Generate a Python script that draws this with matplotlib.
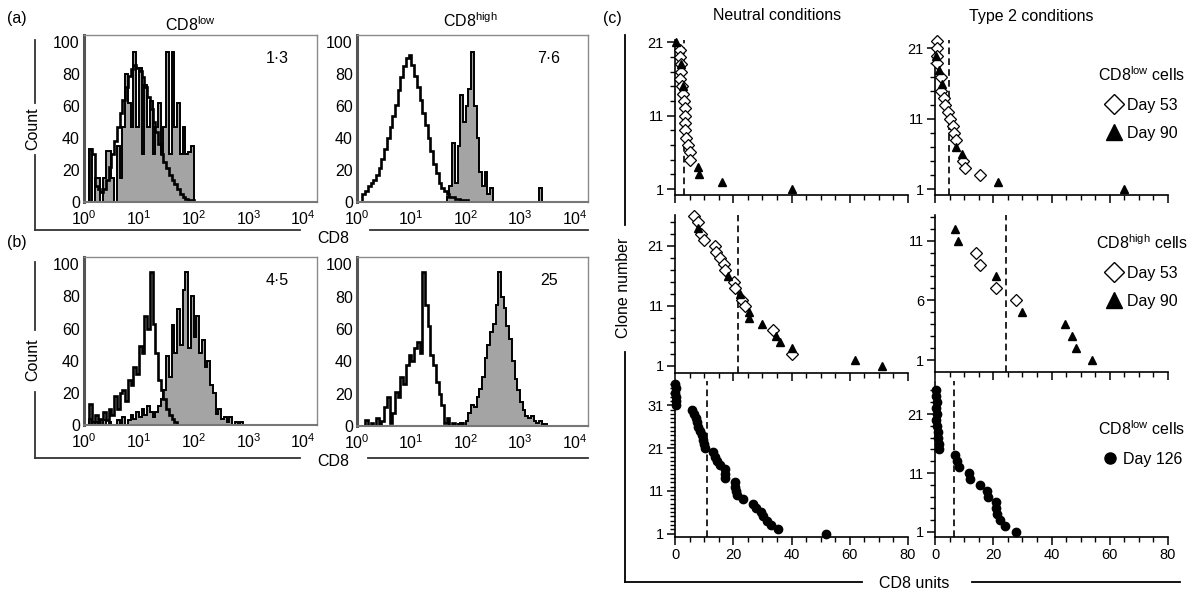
import numpy as np
import matplotlib
matplotlib.use('Agg')
import matplotlib.pyplot as plt
from matplotlib.lines import Line2D
from matplotlib.ticker import FixedLocator, NullFormatter

plt.rcParams['font.family'] = ['Liberation Sans', 'DejaVu Sans']
plt.rcParams['mathtext.fontset'] = 'custom'
plt.rcParams['mathtext.rm'] = 'Liberation Sans'

# ---- (a)/(b) flow histograms: counts per channel, 20 channels per decade from 10^0 ----
a_low_open = [0, 0, 33, 30, 10, 8, 6, 8, 14, 22, 30, 38, 47, 56, 64, 72, 79, 83, 86, 84,
              82, 78, 72, 66, 58, 50, 44, 36, 30, 25, 21, 17, 14, 11, 8, 5, 3, 2, 1, 1, 0]
a_low_fill = [0, 0, 33, 0, 15, 15, 0, 15, 32, 32, 15, 0, 35, 15, 47, 80, 62, 47, 94, 47,
              84, 30, 73, 47, 63, 30, 47, 62, 30, 47, 94, 30, 94, 47, 62, 30, 47, 30, 31, 35, 0]
a_high_open = [0, 0, 5, 7, 10, 12, 14, 17, 21, 27, 33, 40, 47, 54, 61, 70, 78, 85, 90, 92,
               86, 79, 72, 64, 56, 48, 40, 32, 24, 18, 12, 9, 7, 5, 3, 3, 2, 2, 1, 1, 1, 0]
a_high_fill = [0, 0, 0, 0, 0, 0, 0, 0, 0, 0, 0, 0, 0, 0, 0, 0, 0, 0, 0, 0,
               0, 0, 0, 0, 0, 0, 0, 0, 0, 0, 0, 0, 0, 3, 10, 37, 12, 35, 67, 50,
               60, 71, 94, 60, 40, 19, 10, 19, 5, 9, 0, 0, 0, 0, 0, 0, 0, 0, 0, 0,
               0, 0, 0, 0, 0, 0, 0, 9, 0]
b_low_open = [0, 0, 13, 2, 6, 0, 4, 8, 3, 10, 6, 18, 10, 20, 22, 15, 28, 25, 36, 32,
              49, 45, 68, 60, 95, 63, 45, 28, 22, 16, 10, 6, 4, 2, 0]
b_low_fill = [0, 0, 4, 0, 2, 0, 0, 3, 0, 2, 0, 0, 3, 0, 5, 0, 3, 6, 4, 8,
              5, 10, 6, 12, 8, 5, 8, 12, 16, 22, 43, 30, 62, 45, 72, 50, 84, 95, 48, 80,
              55, 68, 45, 53, 36, 40, 25, 20, 7, 10, 4, 5, 2, 5, 0, 2, 0, 2, 0]
b_high_open = [0, 0, 0, 4, 0, 2, 0, 5, 0, 3, 12, 18, 2, 8, 21, 18, 30, 26, 38, 44,
               40, 48, 52, 45, 95, 75, 62, 44, 38, 27, 20, 13, 2, 5, 0, 2, 0, 0, 2, 0]
b_high_fill = [0, 0, 0, 0, 0, 0, 0, 0, 0, 0, 0, 0, 0, 0, 0, 0, 0, 0, 0, 0,
               0, 0, 0, 0, 0, 0, 0, 0, 0, 0, 0, 0, 0, 0, 0, 0, 0, 1, 2, 0,
               3, 8, 13, 12, 18, 23, 30, 42, 50, 58, 63, 75, 95, 80, 73, 62, 54, 40, 29, 22,
               15, 10, 6, 5, 6, 3, 2, 3, 1, 1, 0]
hist_values = ['1·3', '7·6', '4·5', '25']

# ---- (c) CD8 units vs clone number ----
neu_low_d53_x = [1.6, 1.7, 1.9, 2.0, 1.8, 2.3, 2.6, 3.2, 3.4, 3.4, 3.4, 3.4, 3.8, 4.6, 5.2, 5.2]
neu_low_d53_y = [20, 19, 18, 17, 16, 15, 14, 13, 12, 11, 10, 9, 8, 7, 6, 5]
neu_low_d90_x = [0.5, 2.1, 2.6, 8.0, 8.3, 16.0, 40.0]
neu_low_d90_y = [21, 18, 15, 4, 3, 2, 1]

t2_low_d53_x = [0.8, 0.6, 0.8, 0.8, 2.0, 2.2, 3.0, 3.4, 4.6, 5.2, 6.1, 6.5, 7.2, 9.5, 10.3, 15.6]
t2_low_d53_y = [22, 21, 20, 19, 17, 15, 14, 13, 12, 11, 10, 9, 8, 5, 4, 3]
t2_low_d90_x = [0.3, 1.5, 2.3, 7.2, 9.1, 21.7, 65.0]
t2_low_d90_y = [20, 18, 16, 7, 6, 2, 1]

neu_high_d53_x = [6.5, 7.9, 8.8, 10.1, 13.7, 14.1, 15.5, 16.8, 17.2, 20.4, 20.6, 22.9, 24.0, 33.7, 40.0]
neu_high_d53_y = [26, 25, 23, 22, 21, 20, 19, 18, 17, 15, 14, 12, 11, 7, 3]
neu_high_d90_x = [8.0, 18.3, 22.3, 25.5, 25.5, 29.8, 34.6, 36.1, 40.0, 61.8, 71.0]
neu_high_d90_y = [24, 16, 13, 10, 9, 8, 6, 5, 4, 2, 1]

t2_high_d53_x = [14.0, 15.4, 20.9, 27.7]
t2_high_d53_y = [10, 9, 7, 6]
t2_high_d90_x = [6.8, 8.0, 20.9, 30.0, 44.7, 47.2, 48.5, 54.0]
t2_high_d90_y = [12, 11, 8, 5, 4, 3, 2, 1]

neu_d126_x = [0.1, 0.2, 0.1, 0.3, 0.2, 0.4, 5.9, 6.5, 7.1, 7.5, 8.0, 8.7, 9.2, 9.6, 9.9, 10.2,
              13.0, 13.6, 14.5, 15.5, 17.0, 17.1, 17.2, 20.6, 20.6, 20.8, 21.3,
              23.3, 26.7, 27.9, 29.6, 30.2, 31.7, 32.8, 35.3, 52.0]
neu_d126_y = [36, 35, 34, 33, 32, 31, 30, 29, 28, 27, 26, 25, 24, 23, 22, 21,
              20, 19, 18, 17, 16, 15, 14, 13, 12, 11, 10, 9, 8, 7, 6, 5, 4, 3, 2, 1]
t2_d126_x = [0.5, 0.3, 0.6, 0.4, 0.7, 0.5, 0.8, 1.0, 1.2, 1.4, 1.5, 7.0, 7.6, 8.2, 11.7,
             12.0, 15.4, 18.0, 18.2, 20.9, 21.1, 21.3, 22.2, 23.9, 27.9]
t2_d126_y = [25, 24, 23, 22, 21, 20, 19, 18, 17, 16, 15, 14, 13, 12, 11,
             10, 9, 8, 7, 6, 5, 4, 3, 2, 1]

# dashed reference line per panel (CD8 units)
cutoffs = {'neu_low': 3.1, 't2_low': 4.8, 'neu_high': 21.7, 't2_high': 24.3,
           'neu_126': 11.1, 't2_126': 6.5}

W, H = 1197, 590
fig = plt.figure(figsize=(W / 100, H / 100), dpi=100)


def px_axes(l, t, r, b):
    return fig.add_axes([l / W, 1 - b / H, (r - l) / W, (b - t) / H])


def px_line(xs, ys, color='#333333'):
    fig.add_artist(Line2D([x / W for x in xs], [1 - y / H for y in ys],
                          transform=fig.transFigure, color=color, lw=1.3))


def px_text(x, y, s, **kw):
    fig.text(x / W, 1 - y / H, s, ha='center', va='center', **kw)


def hist_panel(box, open_vals, fill_vals, label):
    ax = px_axes(*box)
    e_fill = 10 ** (np.arange(len(fill_vals) + 1) / 20)
    e_open = 10 ** (np.arange(len(open_vals) + 1) / 20)
    ax.stairs(fill_vals, e_fill, fill=True, color='#a4a4a4', lw=0)
    ax.stairs(fill_vals, e_fill, color='black', lw=1.4)
    ax.stairs(open_vals, e_open, color='black', lw=1.9)
    ax.set_xscale('log')
    ax.set_xlim(1, 10 ** 4.25)
    ax.set_ylim(0, 104.5)
    ax.set_xticks([1, 10, 100, 1000, 10000])
    ax.xaxis.set_minor_locator(FixedLocator([]))
    ax.set_yticks([0, 20, 40, 60, 80, 100])
    ax.tick_params(length=0, labelsize=11.5)
    ax.tick_params(axis='x', pad=5)
    ax.tick_params(axis='y', pad=3)
    for side in ['top', 'right']:
        ax.spines[side].set_color('#8a8a8a')
        ax.spines[side].set_linewidth(1.0)
    ax.spines['left'].set_color('#555555')
    ax.spines['left'].set_linewidth(2.2)
    ax.spines['bottom'].set_color('#777777')
    ax.spines['bottom'].set_linewidth(1.5)
    ax.text(0.83, 0.86, label, transform=ax.transAxes, ha='center', va='center', fontsize=11.5)
    return ax


hist_panel((84, 35, 317, 202), a_low_open, a_low_fill, hist_values[0])
hist_panel((357, 35, 588, 202), a_high_open, a_high_fill, hist_values[1])
hist_panel((84, 257, 317, 425), b_low_open, b_low_fill, hist_values[2])
hist_panel((357, 257, 588, 426), b_high_open, b_high_fill, hist_values[3])

px_text(190, 25, r'CD8$^{\mathregular{low}}$', fontsize=11.5)
px_text(470, 21, r'CD8$^{\mathregular{high}}$', fontsize=11.5)
px_text(17, 19, '(a)', fontsize=11.5)
px_text(17, 242, '(b)', fontsize=11.5)
px_text(612, 19, '(c)', fontsize=11.5)

# outer frame of (a) and (b)
px_line([35, 35], [40, 103])
px_line([35, 35], [155, 230])
px_line([35, 300], [230, 230])
px_line([370, 588], [230, 230])
px_text(33, 129, 'Count', fontsize=11.5, rotation=90)
px_text(333, 239, 'CD8', fontsize=11.5)
px_line([35, 35], [262, 330])
px_line([35, 35], [392, 458])
px_line([35, 300], [458, 458])
px_line([368, 588], [458, 458])
px_text(33, 360, 'Count', fontsize=11.5, rotation=90)
px_text(333, 462, 'CD8', fontsize=11.5)


def clone_panel(box, ylim, yticks, ystep, cut, show_x):
    ax = px_axes(*box)
    ax.set_xlim(0, 80)
    ax.set_ylim(*ylim)
    ax.set_xticks([0, 20, 40, 60, 80])
    ax.xaxis.set_minor_locator(FixedLocator(np.arange(0, 81, 5)))
    ax.set_yticks(yticks)
    ax.yaxis.set_minor_locator(FixedLocator(np.arange(1, ylim[1], ystep)))
    ax.tick_params(which='major', direction='out', length=6, width=1.1, labelsize=10.5, pad=2)
    ax.tick_params(which='minor', direction='out', length=3.5, width=1.0)
    if not show_x:
        ax.xaxis.set_major_formatter(NullFormatter())
    for side in ['top', 'right']:
        ax.spines[side].set_visible(False)
    for side in ['left', 'bottom']:
        ax.spines[side].set_linewidth(1.2)
    ax.patch.set_alpha(0)
    ax.axvline(cut, color='black', ls=(0, (4, 2.5)), lw=1.2)
    return ax


def diamonds(ax, x, y):
    ax.plot(x, y, 'D', ms=5.8, mfc='white', mec='black', mew=0.9, clip_on=False, zorder=3)


def triangles(ax, x, y):
    ax.plot(x, y, '^', ms=6, mfc='black', mec='black', clip_on=False, zorder=4)


def dots(ax, x, y):
    ax.plot(x, y, 'o', ms=6, mfc='black', mec='black', clip_on=False, zorder=4)


ax = clone_panel((675, 40, 908, 195), (0.2, 21.3), [1, 11, 21], 2, cutoffs['neu_low'], False)
diamonds(ax, neu_low_d53_x, neu_low_d53_y)
triangles(ax, neu_low_d90_x, neu_low_d90_y)
ax = clone_panel((935, 40, 1168, 195), (0.2, 22.2), [1, 11, 21], 2, cutoffs['t2_low'], False)
diamonds(ax, t2_low_d53_x, t2_low_d53_y)
triangles(ax, t2_low_d90_x, t2_low_d90_y)

ax = clone_panel((675, 215, 908, 373), (-0.2, 26.1), [1, 11, 21], 2, cutoffs['neu_high'], False)
diamonds(ax, neu_high_d53_x, neu_high_d53_y)
triangles(ax, neu_high_d90_x, neu_high_d90_y)
ax = clone_panel((935, 215, 1168, 372), (0.0, 13.15), [1, 6, 11], 1, cutoffs['t2_high'], False)
diamonds(ax, t2_high_d53_x, t2_high_d53_y)
triangles(ax, t2_high_d90_x, t2_high_d90_y)

ax = clone_panel((675, 381, 908, 537), (0.2, 36.7), [1, 11, 21, 31], 1, cutoffs['neu_126'], True)
dots(ax, neu_d126_x, neu_d126_y)
ax = clone_panel((935, 381, 1168, 537), (0.15, 26.6), [1, 11, 21], 2, cutoffs['t2_126'], True)
dots(ax, t2_d126_x, t2_d126_y)

px_text(777, 16, 'Neutral conditions', fontsize=11.5)
px_text(1031, 16, 'Type 2 conditions', fontsize=11.5)

# outer frame of (c)
px_line([625, 625], [35, 225], color='black')
px_line([625, 625], [352, 582], color='black')
px_line([625, 862], [582, 582], color='black')
px_line([972, 1180], [582, 582], color='black')
px_text(624, 288, 'Clone number', fontsize=11.5, rotation=90)
px_text(914, 583, 'CD8 units', fontsize=11.5)

# marker keys
diamond_key = Line2D([], [], marker='D', ls='none', ms=10, mfc='white', mec='black', mew=1.0)
triangle_key = Line2D([], [], marker='^', ls='none', ms=11, mfc='black', mec='black')
dot_key = Line2D([], [], marker='o', ls='none', ms=8, mfc='black', mec='black')

legend_sets = [
    (103, r'CD8$^{\mathregular{low}}$ cells', [diamond_key, triangle_key], ['Day 53', 'Day 90']),
    (271, r'CD8$^{\mathregular{high}}$ cells', [diamond_key, triangle_key], ['Day 53', 'Day 90']),
    (443, r'CD8$^{\mathregular{low}}$ cells', [dot_key], ['Day 126']),
]
for cy, title, handles, labels in legend_sets:
    leg = fig.legend(handles, labels, title=title, loc='center',
                     bbox_to_anchor=(1142 / W, 1 - cy / H), bbox_transform=fig.transFigure,
                     frameon=False, fontsize=11.5, title_fontsize=11.5,
                     handlelength=1.0, handletextpad=0.3, labelspacing=0.8, borderpad=0)
    leg._legend_box.sep = 10

fig.savefig('out.png', dpi=100)
